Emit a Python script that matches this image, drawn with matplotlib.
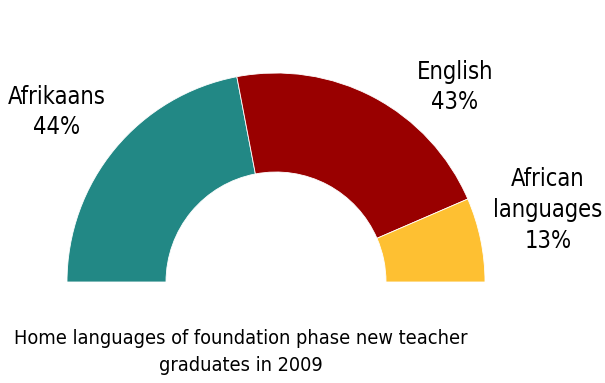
import matplotlib.pyplot as plt
import numpy as np
from matplotlib import font_manager

languages = ["Afrikaans", "English", "African\nlanguages"]
shares = [44, 43, 13]
colors = ["#228885", "#990000", "#FEC032"]
title = "Home languages of foundation phase new teacher\ngraduates in 2009"

# pick a narrow family if one is around
names = {f.name for f in font_manager.fontManager.ttflist}
narrow = "Liberation Sans Narrow" if "Liberation Sans Narrow" in names else "DejaVu Sans"
plt.rcParams['font.family'] = [narrow, "DejaVu Sans"]

fig = plt.figure(figsize=(6.05, 3.83), dpi=100)
ax = fig.add_axes([0, 0, 1, 1])

# half donut: shares of 100 fill half a circle
ax.pie(np.array(shares) / 200.0, normalize=False, startangle=180, counterclock=False,
       colors=colors, center=(276, 101), radius=209, frame=True,
       wedgeprops=dict(width=99, edgecolor='white', linewidth=0.6))
ax.set_xlim(0, 605)
ax.set_ylim(0, 383)
ax.set_aspect('equal')
ax.axis('off')

label_pos = [(57, 271), (455, 296), (548, 173)]
for name, s, (x, y) in zip(languages, shares, label_pos):
    ax.text(x, y, f"{name}\n{s}%", ha='center', va='center', fontsize=17,
            fontstretch='condensed', linespacing=1.36)

ax.text(241, 31, title, ha='center', va='center', fontsize=14.3,
        fontstretch='condensed', linespacing=1.56)

fig.savefig("out.png", dpi=100)
